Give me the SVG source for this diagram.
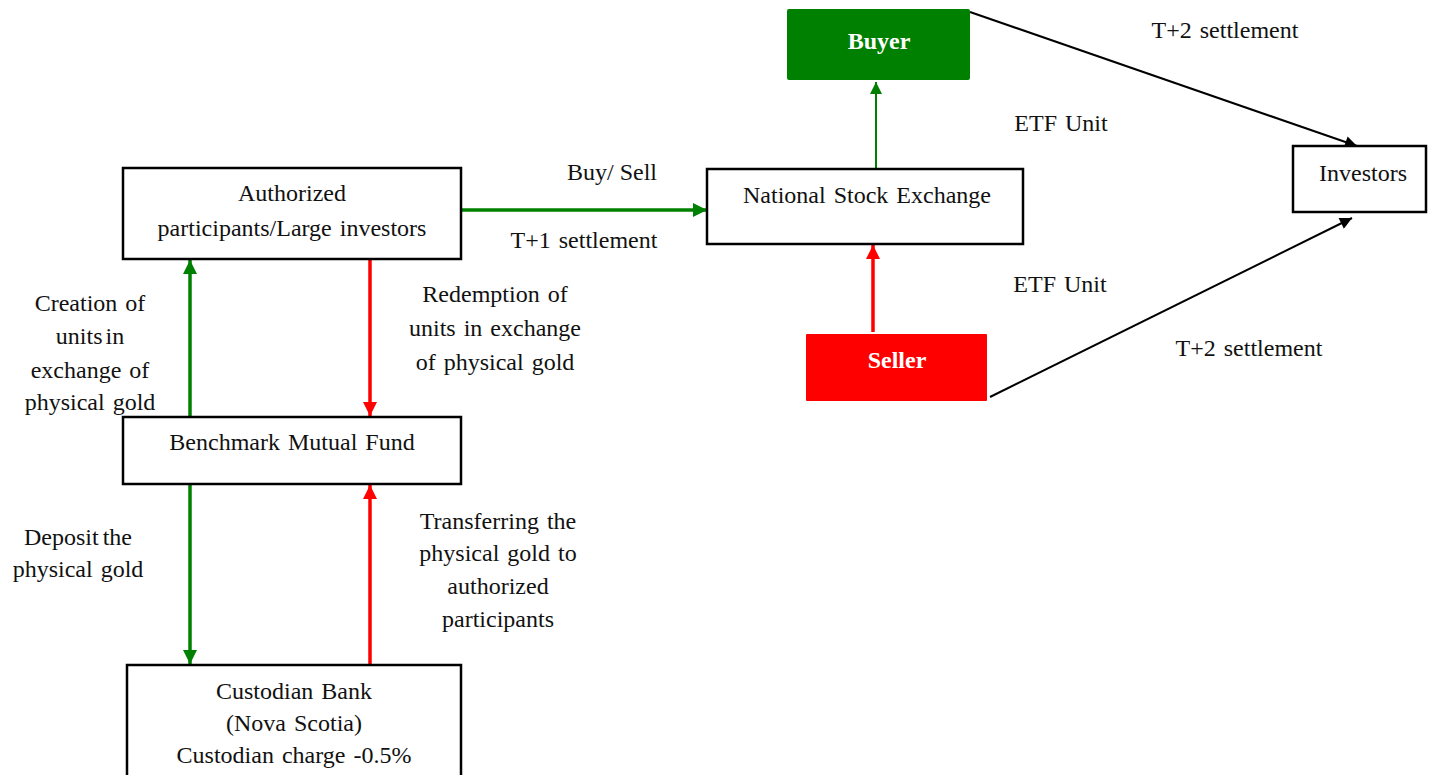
<svg xmlns="http://www.w3.org/2000/svg" width="1433" height="775" viewBox="0 0 1433 775">
<style>
text{font-family:"Liberation Serif","Times New Roman",serif;font-size:24px;fill:#111;word-spacing:2px}
.c{text-anchor:middle}
.b{font-weight:bold;fill:#fff}
.box{fill:#fff;stroke:#000;stroke-width:2.5}
</style>
<defs>
<marker id="ag" viewBox="0 0 10 10" refX="10" refY="5" markerWidth="4" markerHeight="4" orient="auto" markerUnits="strokeWidth"><path d="M0,0L10,5L0,10z" fill="#008000"/></marker>
<marker id="ag2" viewBox="0 0 10 10" refX="10" refY="5" markerWidth="6" markerHeight="6" orient="auto" markerUnits="strokeWidth"><path d="M0,0L10,5L0,10z" fill="#008000"/></marker>
<marker id="ar" viewBox="0 0 10 10" refX="10" refY="5" markerWidth="4" markerHeight="4" orient="auto" markerUnits="strokeWidth"><path d="M0,0L10,5L0,10z" fill="#ff0000"/></marker>
<marker id="ak" viewBox="0 0 10 10" refX="10" refY="5" markerWidth="7" markerHeight="6" orient="auto" markerUnits="strokeWidth"><path d="M0,0L10,5L0,10z" fill="#000"/></marker>
</defs>
<rect width="1433" height="775" fill="#fff"/>
<g id="connectors">
<line x1="461" y1="210" x2="707" y2="210" stroke="#008000" stroke-width="3.5" marker-end="url(#ag)"/>
<line x1="876" y1="169" x2="876" y2="82" stroke="#008000" stroke-width="2" marker-end="url(#ag2)"/>
<line x1="873" y1="332" x2="873" y2="245" stroke="#ff0000" stroke-width="3.5" marker-end="url(#ar)"/>
<line x1="970" y1="12" x2="1357" y2="146" stroke="#000" stroke-width="2" marker-end="url(#ak)"/>
<line x1="990" y1="397" x2="1352" y2="218" stroke="#000" stroke-width="2" marker-end="url(#ak)"/>
<line x1="190" y1="417" x2="190" y2="260" stroke="#008000" stroke-width="3.5" marker-end="url(#ag)"/>
<line x1="370" y1="259" x2="370" y2="416" stroke="#ff0000" stroke-width="3.5" marker-end="url(#ar)"/>
<line x1="190" y1="484" x2="190" y2="664" stroke="#008000" stroke-width="3.5" marker-end="url(#ag)"/>
<line x1="370" y1="665" x2="370" y2="485" stroke="#ff0000" stroke-width="3.5" marker-end="url(#ar)"/>
</g>
<g id="authorized">
<rect class="box" x="123" y="168" width="338" height="91"/>
<text class="c" x="292" y="201">Authorized</text>
<text class="c" x="292" y="236">participants/Large investors</text>
</g>
<g id="benchmark">
<rect class="box" x="123" y="417" width="338" height="67"/>
<text class="c" x="292" y="450">Benchmark Mutual Fund</text>
</g>
<g id="custodian">
<rect class="box" x="127" y="665" width="334" height="115"/>
<text class="c" x="294" y="699">Custodian Bank</text>
<text class="c" x="294" y="731">(Nova Scotia)</text>
<text class="c" x="294" y="763">Custodian charge -0.5%</text>
</g>
<g id="nse">
<rect class="box" x="707" y="169" width="316" height="75"/>
<text class="c" x="867" y="203">National Stock Exchange</text>
</g>
<g id="buyer">
<rect x="787" y="9" width="183" height="71" rx="2" fill="#008000"/>
<text class="c b" x="879" y="49">Buyer</text>
</g>
<g id="seller">
<rect x="806" y="334" width="181" height="67" rx="1" fill="#ff0000"/>
<text class="c b" x="897" y="368">Seller</text>
</g>
<g id="investors">
<rect class="box" x="1293" y="146" width="133" height="66"/>
<text class="c" x="1363" y="181">Investors</text>
</g>
<g id="labels">
<text class="c" x="612" y="180" style="word-spacing:0">Buy/ Sell</text>
<text class="c" x="584" y="248">T+1 settlement</text>
<text class="c" x="1061" y="131">ETF Unit</text>
<text class="c" x="1060" y="292">ETF Unit</text>
<text class="c" x="1225" y="38">T+2 settlement</text>
<text class="c" x="1249" y="356">T+2 settlement</text>
<text class="c" x="90" y="311">Creation of</text>
<text class="c" x="90" y="344" style="word-spacing:-3px">units in</text>
<text class="c" x="90" y="378">exchange of</text>
<text class="c" x="90" y="410">physical gold</text>
<text class="c" x="495" y="302">Redemption of</text>
<text class="c" x="495" y="336">units in exchange</text>
<text class="c" x="495" y="370">of physical gold</text>
<text class="c" x="78" y="545" style="word-spacing:-2px">Deposit the</text>
<text class="c" x="78" y="577">physical gold</text>
<text class="c" x="498" y="529">Transferring the</text>
<text class="c" x="498" y="561">physical gold to</text>
<text class="c" x="498" y="594">authorized</text>
<text class="c" x="498" y="627">participants</text>
</g>
</svg>
